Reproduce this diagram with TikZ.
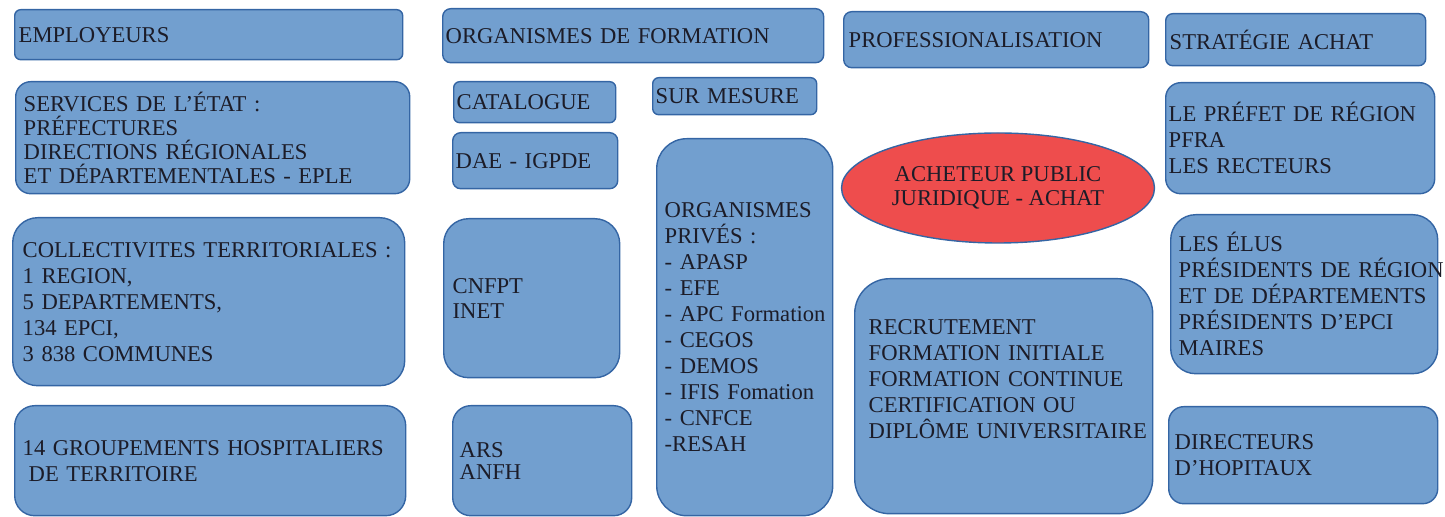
\documentclass[tikz,border=0pt]{standalone}
\usepackage{fontspec}
\setmainfont{Liberation Serif}
\usetikzlibrary{shapes.geometric}
\definecolor{boxfill}{HTML}{729FCF}
\definecolor{boxline}{HTML}{3465A4}
\definecolor{redfill}{HTML}{EE4D4D}
\definecolor{txt}{HTML}{1C1C28}
\begin{document}
\begin{tikzpicture}[x=0.5pt,y=-0.5pt,
  box/.style={draw=boxline, fill=boxfill, line width=0.7pt, align=left,
    anchor=north west, inner ysep=0pt, text=txt,
    font=\fontsize{11.3}{13}\selectfont},
  oval/.style={ellipse, draw=boxline, fill=redfill, line width=0.7pt,
    align=center, inner sep=0pt, text=txt,
    font=\fontsize{11.3}{12}\selectfont}
]
\useasboundingbox (0,0) rectangle (1445,517);

% column 1
\node[box, rounded corners=3pt, text width=190pt, inner xsep=2pt, minimum height=25pt]
  (employeurs) at (14,9) {\mbox{EMPLOYEURS}};
\node[box, rounded corners=7.5pt, text width=189pt, inner xsep=4pt, minimum height=56pt,
  font=\fontsize{11.3}{12}\selectfont]
  (services) at (15,81) {\mbox{SERVICES DE L'ÉTAT :}\\\mbox{PRÉFECTURES}\\\mbox{DIRECTIONS RÉGIONALES}\\\mbox{ET DÉPARTEMENTALES - EPLE}};
\node[box, rounded corners=12.5pt, text width=186pt, inner xsep=5pt, minimum height=84pt]
  (collect) at (12,217) {\mbox{COLLECTIVITES TERRITORIALES :}\\\mbox{1 REGION,}\\\mbox{5 DEPARTEMENTS,}\\\mbox{134 EPCI,}\\\mbox{3 838 COMMUNES}};
\node[box, rounded corners=10pt, text width=187.5pt, inner xsep=4pt, minimum height=55pt]
  (ght) at (14,405) {\mbox{14 GROUPEMENTS HOSPITALIERS}\\\mbox{\hspace*{3pt}DE TERRITOIRE}};

% column 2
\node[box, rounded corners=4pt, text width=187.5pt, inner xsep=1.5pt, minimum height=27pt]
  (orgform) at (442,8) {\mbox{ORGANISMES DE FORMATION}};
\node[box, rounded corners=3pt, text width=78pt, inner xsep=1.5pt, minimum height=20.5pt]
  (catalogue) at (453,81) {\mbox{CATALOGUE}};
\node[box, rounded corners=3pt, text width=79pt, inner xsep=1.5pt, minimum height=18.5pt]
  (surmesure) at (652,77) {\mbox{SUR MESURE}};
\node[box, rounded corners=4pt, text width=79.5pt, inner xsep=1.5pt, minimum height=28pt]
  (dae) at (452,132) {\mbox{DAE - IGPDE}};
\node[box, rounded corners=12.5pt, text width=79pt, inner xsep=4.5pt, minimum height=79.5pt,
  font=\fontsize{11.3}{12.5}\selectfont]
  (cnfpt) at (443,218) {\mbox{CNFPT}\\\mbox{INET}};
\node[box, rounded corners=9pt, text width=82.5pt, inner xsep=3.5pt, minimum height=55pt,
  font=\fontsize{11.3}{11}\selectfont]
  (ars) at (452,405) {\mbox{ARS}\\\mbox{ANFH}};
\node[box, rounded corners=15pt, text width=80pt, inner xsep=4pt, minimum height=188.5pt]
  (prives) at (656,138) {\mbox{ORGANISMES}\\\mbox{PRIVÉS :}\\\mbox{- APASP}\\\mbox{- EFE}\\\mbox{- APC Formation}\\\mbox{- CEGOS}\\\mbox{- DEMOS}\\\mbox{- IFIS Fomation}\\\mbox{- CNFCE}\\\mbox{-RESAH}};

% column 3
\node[box, rounded corners=4pt, text width=147.5pt, inner xsep=2.5pt, minimum height=28pt]
  (prof) at (843,11) {\mbox{PROFESSIONALISATION}};
\node[oval, minimum width=156.5pt, minimum height=55pt]
  (acheteur) at (998,188) {ACHETEUR PUBLIC\\JURIDIQUE - ACHAT};
\node[box, rounded corners=17.5pt, text width=135pt, inner xsep=7pt, minimum height=117.5pt]
  (recrut) at (854,278) {\mbox{RECRUTEMENT}\\\mbox{FORMATION INITIALE}\\\mbox{FORMATION CONTINUE}\\\mbox{CERTIFICATION OU}\\\mbox{DIPLÔME UNIVERSITAIRE}\\\strut};

% column 4
\node[box, rounded corners=3.5pt, text width=126pt, inner xsep=2pt, minimum height=26pt]
  (strat) at (1165,13) {\mbox{STRATÉGIE ACHAT}};
\node[box, rounded corners=7.5pt, text width=131.5pt, inner xsep=1.5pt, minimum height=55.5pt]
  (prefet) at (1165,82) {\mbox{LE PRÉFET DE RÉGION}\\\mbox{PFRA}\\\mbox{LES RECTEURS}};
\node[box, rounded corners=12.5pt, text width=125.5pt, inner xsep=4pt, minimum height=79.5pt]
  (elus) at (1170,214) {\mbox{LES ÉLUS}\\\mbox{PRÉSIDENTS DE RÉGION}\\\mbox{ET DE DÉPARTEMENTS}\\\mbox{PRÉSIDENTS D'EPCI}\\\mbox{MAIRES}};
\node[box, rounded corners=7.5pt, text width=128.5pt, inner xsep=3pt, minimum height=48.5pt]
  (directeurs) at (1168,406) {\mbox{DIRECTEURS}\\\mbox{D'HOPITAUX}};
\end{tikzpicture}
\end{document}
